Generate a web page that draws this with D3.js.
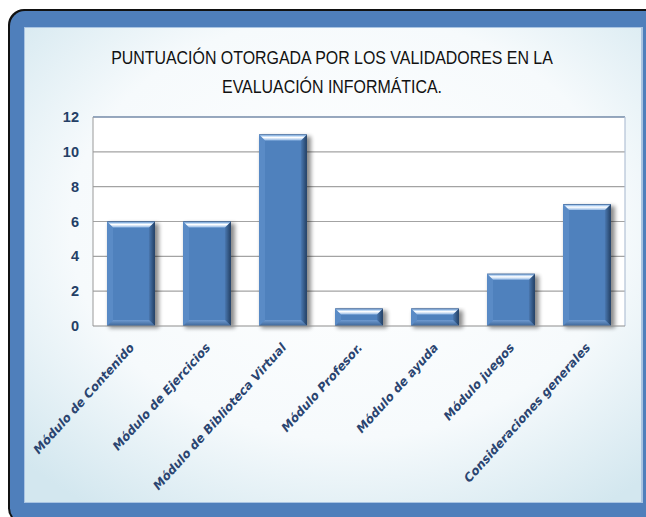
<!DOCTYPE html>
<html lang="es">
<head>
<meta charset="UTF-8">
<title>Puntuación otorgada por los validadores</title>
<script src="https://d3js.org/d3.v7.min.js"></script>
<style>
  html, body { margin: 0; padding: 0; background: #fff; }
  svg { display: block; }
</style>
</head>
<body>
<svg id="chart"></svg>
<script>
// data
const categories = [
  "Módulo de Contenido",
  "Módulo de Ejercicios",
  "Módulo de Biblioteca Virtual",
  "Módulo Profesor.",
  "Módulo de ayuda",
  "Módulo juegos",
  "Consideraciones generales"
];
const puntuacion = [6, 6, 11, 1, 1, 3, 7];
const yTicks = [0, 2, 4, 6, 8, 10, 12];
const titleLines = [
  "PUNTUACIÓN OTORGADA POR LOS VALIDADORES EN LA",
  "EVALUACIÓN INFORMÁTICA."
];

const W = 646, H = 517;
const plot = { left: 93, right: 625, top: 117, bottom: 326 };

const svg = d3.select("#chart").attr("width", W).attr("height", H);
const defs = svg.append("defs");

// panel background
const rg = defs.append("radialGradient").attr("id", "panelBg")
  .attr("cx", "52%").attr("cy", "42%").attr("r", "72%");
rg.append("stop").attr("offset", "0").attr("stop-color", "#ffffff");
rg.append("stop").attr("offset", "0.62").attr("stop-color", "#f6fafc");
rg.append("stop").attr("offset", "1").attr("stop-color", "#d3e7ef");

const topG = defs.append("linearGradient").attr("id", "bevelTop")
  .attr("x1", 0).attr("y1", 0).attr("x2", 0).attr("y2", 1);
topG.append("stop").attr("offset", "0").attr("stop-color", "#35598a");
topG.append("stop").attr("offset", "0.2").attr("stop-color", "#9cc3ee");
topG.append("stop").attr("offset", "0.5").attr("stop-color", "#ffffff");
topG.append("stop").attr("offset", "1").attr("stop-color", "#8fb6e4");

const rightG = defs.append("linearGradient").attr("id", "bevelRight")
  .attr("x1", 0).attr("y1", 0).attr("x2", 1).attr("y2", 0);
rightG.append("stop").attr("offset", "0").attr("stop-color", "#4a78b0");
rightG.append("stop").attr("offset", "1").attr("stop-color", "#233f63");

const botG = defs.append("linearGradient").attr("id", "bevelBot")
  .attr("x1", 0).attr("y1", 0).attr("x2", 0).attr("y2", 1);
botG.append("stop").attr("offset", "0").attr("stop-color", "#6f9ad0");
botG.append("stop").attr("offset", "1").attr("stop-color", "#3c6496");

const blur = defs.append("filter").attr("id", "shadow")
  .attr("x", "-20%").attr("y", "-20%").attr("width", "150%").attr("height", "150%");
blur.append("feGaussianBlur").attr("stdDeviation", 2);

// frame: rounded on the left, runs off the right and bottom edges
svg.append("rect").attr("x", 8).attr("y", 9).attr("width", W + 40).attr("height", 515)
  .attr("rx", 16).attr("fill", "#111");
svg.append("rect").attr("x", 10).attr("y", 11).attr("width", W + 40).attr("height", 512)
  .attr("rx", 15).attr("fill", "#4f7fbb");
svg.append("rect").attr("x", 24).attr("y", 27).attr("width", 619).attr("height", 476)
  .attr("fill", "#a9c4e2");
svg.append("rect").attr("x", 25).attr("y", 28).attr("width", 616).attr("height", 474)
  .attr("fill", "url(#panelBg)");

// title, squeezed horizontally to get the narrow look
svg.append("g")
  .attr("transform", "translate(332,0) scale(0.885,1)")
  .append("text")
  .attr("text-anchor", "middle")
  .style("font-family", "'Liberation Sans', Arial, sans-serif")
  .style("font-size", "18px")
  .attr("fill", "#111")
  .selectAll("tspan").data(titleLines).join("tspan")
  .attr("x", 0).attr("y", (d, i) => 64 + i * 29)
  .text(d => d);

// scales
const x = d3.scaleBand().domain(categories)
  .range([plot.left, plot.right]).paddingInner(0.37).paddingOuter(0.185);
const y = d3.scaleLinear().domain([0, 12]).range([plot.bottom, plot.top]);

// plot area
svg.append("rect").attr("x", plot.left).attr("y", plot.top)
  .attr("width", plot.right - plot.left).attr("height", plot.bottom - plot.top)
  .attr("fill", "#fff");

svg.append("g").selectAll("line").data(yTicks.filter(t => t > 0 && t < 12)).join("line")
  .attr("x1", plot.left).attr("x2", plot.right)
  .attr("y1", d => y(d)).attr("y2", d => y(d))
  .attr("stroke", "#a3a3a3").attr("stroke-width", 1.2);

svg.append("line").attr("x1", plot.left).attr("x2", plot.right)
  .attr("y1", y(12)).attr("y2", y(12)).attr("stroke", "#33527f").attr("stroke-width", 1.2);
svg.append("line").attr("x1", plot.right).attr("x2", plot.right)
  .attr("y1", plot.top).attr("y2", plot.bottom).attr("stroke", "#b3c2d6").attr("stroke-width", 1.2);
svg.append("line").attr("x1", plot.left).attr("x2", plot.left)
  .attr("y1", plot.top).attr("y2", plot.bottom).attr("stroke", "#9a9a9a").attr("stroke-width", 1);

// y axis labels
const yAxis = svg.append("g")
  .attr("transform", `translate(${plot.left},0)`)
  .call(d3.axisLeft(y).tickValues(yTicks).tickSize(0).tickPadding(14));
yAxis.select(".domain").remove();
yAxis.selectAll("text")
  .style("font-family", "'Liberation Sans', Arial, sans-serif")
  .style("font-size", "14.5px").style("font-weight", "bold")
  .attr("fill", "#243f66");

// bars with a bevel look
const b = 6;
const bars = svg.append("g").selectAll("g").data(categories).join("g");
bars.each(function (c, i) {
  const g = d3.select(this);
  const x0 = x(c), w = x.bandwidth(), x1 = x0 + w;
  const t = y(puntuacion[i]), bt = y(0);
  g.append("rect").attr("x", x0 + 2).attr("y", t + 2).attr("width", w + 2).attr("height", bt - t)
    .attr("fill", "#000").attr("opacity", 0.45).attr("filter", "url(#shadow)");
  g.append("rect").attr("x", x0).attr("y", t).attr("width", w).attr("height", bt - t)
    .attr("fill", "#4f81bd");
  g.append("path").attr("d", `M${x0},${t}L${x0 + b},${t + b}L${x0 + b},${bt - b}L${x0},${bt}Z`)
    .attr("fill", "#5a8bc6");
  g.append("path").attr("d", `M${x1},${t}L${x1 - b},${t + b}L${x1 - b},${bt - b}L${x1},${bt}Z`)
    .attr("fill", "url(#bevelRight)");
  g.append("path").attr("d", `M${x0},${bt}L${x0 + b},${bt - b}L${x1 - b},${bt - b}L${x1},${bt}Z`)
    .attr("fill", "url(#bevelBot)");
  g.append("path").attr("d", `M${x0},${t}L${x1},${t}L${x1 - b},${t + b}L${x0 + b},${t + b}Z`)
    .attr("fill", "url(#bevelTop)");
});

// baseline
svg.append("line").attr("x1", plot.left).attr("x2", plot.right)
  .attr("y1", y(0)).attr("y2", y(0)).attr("stroke", "#8e8e8e").attr("stroke-width", 1.2);

// category labels
svg.append("g").selectAll("text").data(categories).join("text")
  .attr("transform", c => `translate(${x(c) + x.bandwidth() / 2 + 4},348) rotate(-48)`)
  .attr("text-anchor", "end")
  .style("font-family", "'DejaVu Sans', sans-serif")
  .style("font-size", "12px").style("font-weight", "bold").style("font-style", "italic")
  .attr("fill", "#2a4470")
  .text(c => c);
</script>
</body>
</html>
